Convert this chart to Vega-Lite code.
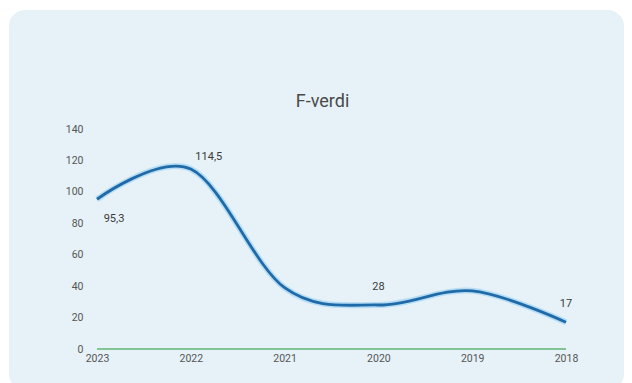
{
  "$schema": "https://vega.github.io/schema/vega-lite/v6.json",
  "autosize": {"type": "none"},
  "width": 615,
  "height": 380,
  "padding": {"left": 9, "top": 10, "right": 8, "bottom": 0},
  "background": "#ffffff",
  "config": {
    "view": {"fill": "#e6f2f8", "stroke": null, "cornerRadius": 16},
    "font": "Roboto"
  },
  "title": {
    "text": "F-verdi",
    "fontSize": 18,
    "font": "Roboto",
    "fontWeight": "normal",
    "color": "#4a4a4a",
    "offset": -101,
    "anchor": "middle",
    "dx": 6
  },
  "data": {
    "values": [
      {"year": "2023", "value": 95.3, "label": "95,3"},
      {"year": "2022", "value": 114.5, "label": "114,5"},
      {"year": "2021", "value": 39, "label": ""},
      {"year": "2020", "value": 28, "label": "28"},
      {"year": "2019", "value": 37, "label": ""},
      {"year": "2018", "value": 17, "label": "17"}
    ]
  },
  "encoding": {
    "x": {
      "field": "year",
      "type": "ordinal",
      "sort": "descending",
      "scale": {"type": "point", "range": [88, 557], "padding": 0},
      "axis": {
        "title": null,
        "domain": false,
        "ticks": false,
        "labelAngle": 0,
        "labelFontSize": 10.5,
        "labelColor": "#555555",
        "offset": -41,
        "labelPadding": 4
      }
    }
  },
  "layer": [
    {
      "mark": {"type": "line", "color": "#62b574", "strokeWidth": 1.5},
      "encoding": {
        "y": {"datum": 0, "type": "quantitative", "scale": {"domain": [0, 140], "range": [339, 119], "nice": false, "zero": false},
          "axis": {
            "title": null,
            "values": [0, 20, 40, 60, 80, 100, 120, 140],
            "grid": false,
            "domain": false,
            "ticks": false,
            "labelFontSize": 10.5,
            "labelColor": "#555555",
            "offset": -78,
            "labelPadding": 4
          }
        }
      }
    },
    {
      "mark": {"type": "line", "interpolate": "cardinal", "color": "#7cc3ee", "strokeWidth": 6, "opacity": 0.45},
      "encoding": {"y": {"field": "value", "type": "quantitative"}}
    },
    {
      "mark": {"type": "line", "interpolate": "cardinal", "color": "#1f6aa8", "strokeWidth": 2.8},
      "encoding": {"y": {"field": "value", "type": "quantitative"}}
    },
    {
      "transform": [{"filter": "datum.year == '2023'"}],
      "mark": {"type": "text", "fontSize": 11, "color": "#3a3a3a", "dx": 17, "dy": 20},
      "encoding": {"y": {"field": "value", "type": "quantitative"}, "text": {"field": "label"}}
    },
    {
      "transform": [{"filter": "datum.year == '2022'"}],
      "mark": {"type": "text", "fontSize": 11, "color": "#3a3a3a", "dx": 18, "dy": -12},
      "encoding": {"y": {"field": "value", "type": "quantitative"}, "text": {"field": "label"}}
    },
    {
      "transform": [{"filter": "datum.year == '2020' || datum.year == '2018'"}],
      "mark": {"type": "text", "fontSize": 11, "color": "#3a3a3a", "dy": -18},
      "encoding": {"y": {"field": "value", "type": "quantitative"}, "text": {"field": "label"}}
    }
  ]
}
